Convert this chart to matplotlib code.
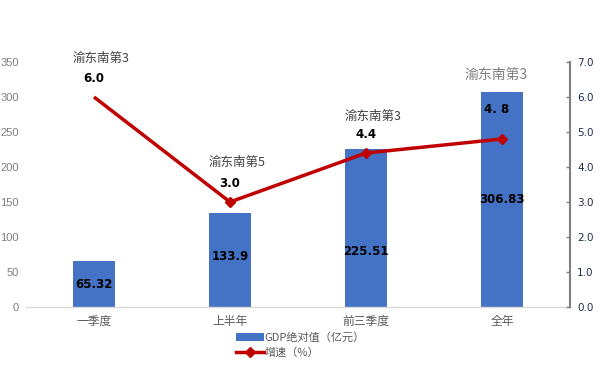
import matplotlib
matplotlib.use("Agg")
import matplotlib.pyplot as plt
from matplotlib.lines import Line2D
from matplotlib.patches import Patch

plt.rcParams['font.family'] = ['Noto Sans CJK SC', 'DejaVu Sans']

categories = ["一季度", "上半年", "前三季度", "全年"]
gdp = [65.32, 133.9, 225.51, 306.83]
gdp_labels = ["65.32", "133.9", "225.51", "306.83"]
growth = [6.0, 3.0, 4.4, 4.8]
growth_labels = ["6.0", "3.0", "4.4", "4. 8"]
rank_labels = ["渝东南第3", "渝东南第5", "渝东南第3", "渝东南第3"]
left_ticks = [0, 50, 100, 150, 200, 250, 300, 350]
right_ticks = [0.0, 1.0, 2.0, 3.0, 4.0, 5.0, 6.0, 7.0]

# label positions (data coords)
gdp_label_y = [32, 72, 79, 153]
growth_label_y = [6.54, 3.54, 4.94, 5.63]
rank_label_y = [7.11, 4.14, 5.43, 6.63]
rank_dx = [0.05, 0.05, 0.05, -0.04]
growth_dx = [0.0, 0.0, 0.0, -0.04]

bar_color = "#4472C4"
line_color = "#C00000"

fig = plt.figure(figsize=(6.01, 3.67), dpi=100)
ax = fig.add_axes([26/601, 1-307/367, (570-26)/601, (307-62)/367])
x = list(range(len(categories)))
ax.bar(x, gdp, width=0.315, color=bar_color, zorder=2)
ax.set_xlim(-0.5, 3.5)
ax.set_ylim(0, 350)
ax.set_yticks(left_ticks)
ax.set_yticklabels([str(t) for t in left_ticks], fontsize=8, color="#7f7f7f", family="Liberation Sans")
ax.tick_params(axis='y', length=0, pad=5)
ax.set_xticks(x)
ax.set_xticklabels(categories, fontsize=8.5, color="#595959")
ax.tick_params(axis='x', length=0, pad=6)
for s in ["top", "left", "right"]:
    ax.spines[s].set_visible(False)
ax.spines["bottom"].set_color("#d9d9d9")
ax.spines["bottom"].set_linewidth(1.0)

for xi, lab, ly in zip(x, gdp_labels, gdp_label_y):
    ax.text(xi, ly, lab, ha="center", va="center", fontsize=8.5, fontweight="bold",
            color="black", family="DejaVu Sans", zorder=4)

ax2 = ax.twinx()
ax2.set_ylim(0, 7)
ax2.set_yticks(right_ticks)
ax2.set_yticklabels([f"{t:.1f}" for t in right_ticks], fontsize=7.5, color="#1f2d4d", family="DejaVu Sans")
ax2.tick_params(axis='y', direction='in', length=3, width=1, color="#808080", pad=5)
for s in ["top", "left", "bottom"]:
    ax2.spines[s].set_visible(False)
ax2.spines["right"].set_color("#808080")
ax2.spines["right"].set_linewidth(1.5)

ax2.plot(x, growth, color=line_color, linewidth=2.5, marker="D", markersize=5,
         markevery=[1, 2, 3], zorder=3, solid_capstyle="butt")

for i, (xi, lab, ly) in enumerate(zip(x, growth_labels, growth_label_y)):
    ax2.text(xi + growth_dx[i], ly, lab, ha="center", va="center", fontsize=8.5, fontweight="bold",
             color="black", family="DejaVu Sans")
for i, (xi, lab, ry) in enumerate(zip(x, rank_labels, rank_label_y)):
    fs = 10 if i == 3 else 9
    col = "#7f7f7f" if i == 3 else "#404040"
    ax2.text(xi + rank_dx[i], ry, lab, ha="center", va="center", fontsize=fs,
             color=col, clip_on=False)

handles = [Patch(facecolor=bar_color, edgecolor="none"),
           Line2D([0], [0], color=line_color, linewidth=2.5, marker="D", markersize=5)]
leg = fig.legend(handles, ["GDP绝对值（亿元）", "增速（%）"], loc="center",
                 bbox_to_anchor=(0.5, 1-345/367), frameon=False, fontsize=8,
                 labelcolor="#595959", handlelength=2.5, handletextpad=0.1,
                 labelspacing=0.35, ncol=1)

fig.savefig("out.png", dpi=100)
